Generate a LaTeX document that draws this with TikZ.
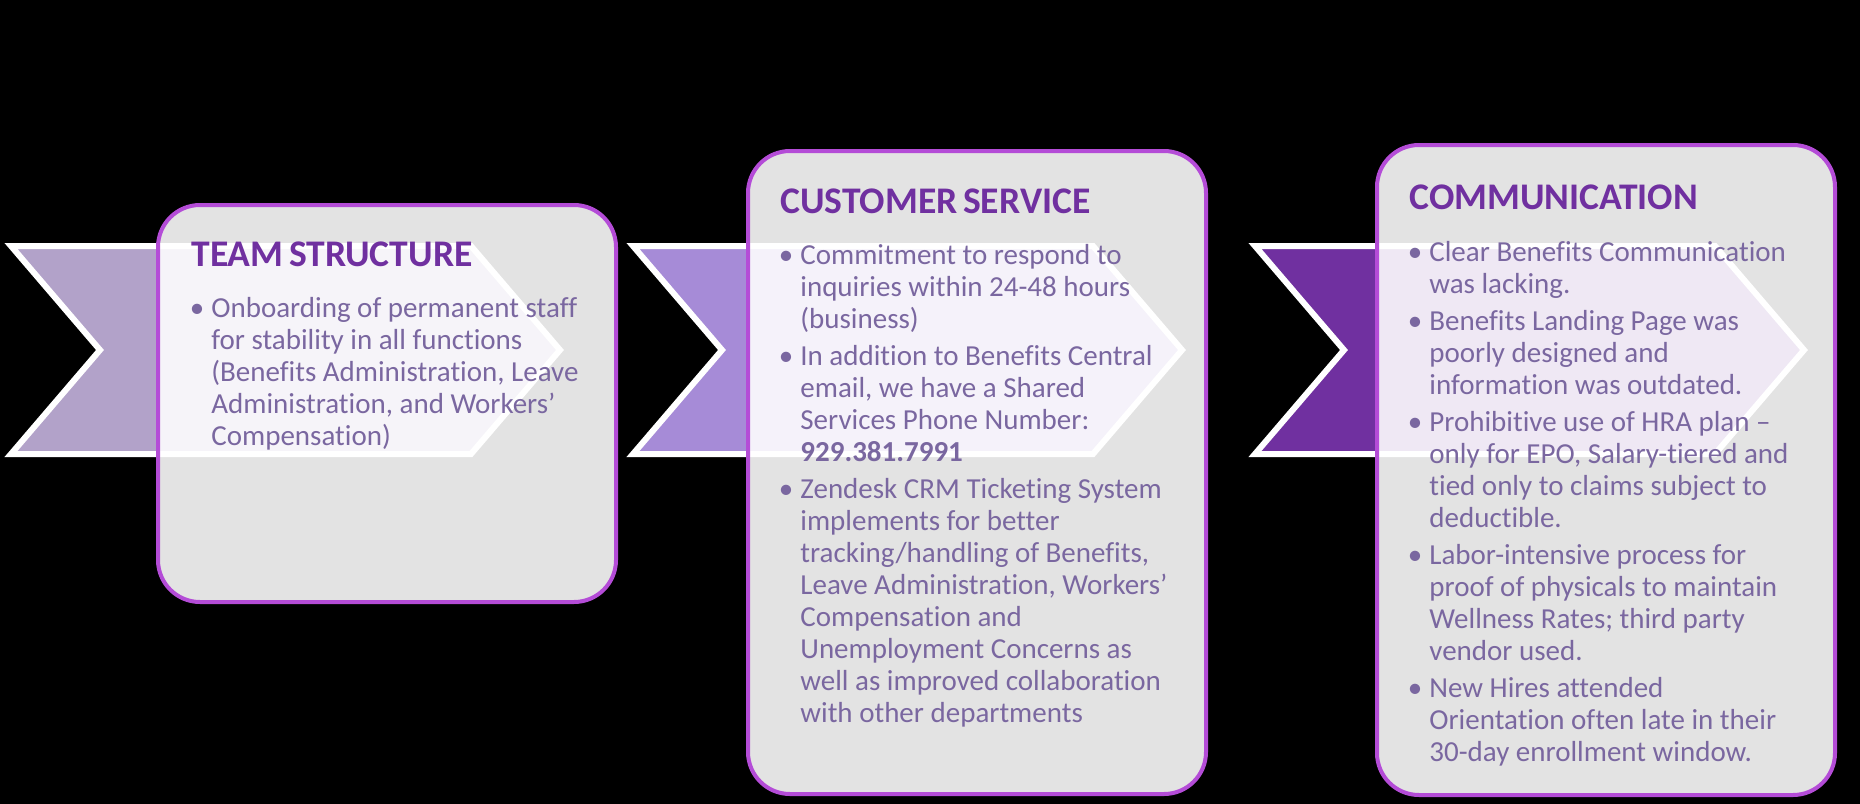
\documentclass[tikz,border=0pt]{standalone}
\usepackage{fontspec}
\setmainfont{Carlito}[Ligatures=NoCommon]
\definecolor{chevA}{HTML}{B2A2C9}
\definecolor{chevB}{HTML}{A68BD7}
\definecolor{chevC}{HTML}{7030A0}
\definecolor{panelborder}{HTML}{B44CD7}
\definecolor{titlecol}{HTML}{7030A0}
\definecolor{bodycol}{HTML}{7A67A0}
\newcommand\bul{\par\noindent\llap{\textbullet\hspace{3.5pt}}}
\begin{document}
\begin{tikzpicture}[x=0.5pt,y=-0.5pt,
  chevronshape/.style={draw=white, line width=3pt},
  panel/.style={draw=panelborder, line width=2pt, fill=white, fill opacity=0.89,
    rounded corners=21pt, minimum width=229pt, anchor=north west, inner sep=0pt},
  heading/.style={anchor=base west, inner sep=0pt, text=titlecol,
    font=\bfseries\fontsize{18.8}{22}\selectfont},
  bodytext/.style={anchor=base west, inner sep=0pt, text=bodycol,
    font=\fontsize{14.5}{16}\selectfont}]
\useasboundingbox (0,0) rectangle (1860,804);
\fill[black] (0,0) rectangle (1860,804);
% chevrons
\draw[chevronshape, fill=chevA] (11,246) -- (471,246) -- (560,350) -- (471,454) -- (11,454) -- (100,350) -- cycle;
\draw[chevronshape, fill=chevB] (633,246) -- (1093,246) -- (1182,350) -- (1093,454) -- (633,454) -- (722,350) -- cycle;
\draw[chevronshape, fill=chevC] (1255,246) -- (1715,246) -- (1804,350) -- (1715,454) -- (1255,454) -- (1344,350) -- cycle;
% panels
\node[panel, minimum height=198.5pt] (box1) at (156,203) {};
\node[panel, minimum height=321.5pt] (box2) at (746,149) {};
\node[panel, minimum height=325pt] (box3) at (1375,143) {};
% titles
\node[heading] (t1) at (191,266) {TEAM\hspace{-1.5pt} STRUCTURE};
\node[heading] (t2) at (780,213) {CUSTOMER\hspace{-1.5pt} SERVICE};
\node[heading] (t3) at (1409,209) {COMMUNICATION};
% bodies
\node[bodytext] (b1) at (211,317) {\parbox[t]{225pt}{\raggedright\setlength\parskip{2.5pt}%
\bul Onboarding of permanent staff\\ for stability in all functions\\ (Benefits Administration, Leave\\ Administration, and Workers’\\ Compensation)}};
\node[bodytext] (b2) at (800,264) {\parbox[t]{225pt}{\raggedright\setlength\parskip{2.5pt}%
\bul Commitment to respond to\\ inquiries within 24-48 hours\\ (business)
\bul In addition to Benefits Central\\ email, we have a Shared\\ Services Phone Number:\\ \textbf{929.381.7991}
\bul Zendesk CRM Ticketing System\\ implements for better\\ tracking/handling of Benefits,\\ Leave Administration, Workers’\\ Compensation and\\ Unemployment Concerns as\\ well as improved collaboration\\ with other departments}};
\node[bodytext] (b3) at (1429,261) {\parbox[t]{225pt}{\raggedright\setlength\parskip{2.5pt}%
\bul Clear Benefits Communication\\ was lacking.
\bul Benefits Landing Page was\\ poorly designed and\\ information was outdated.
\bul Prohibitive use of HRA plan –\\ only for EPO, Salary-tiered and\\ tied only to claims subject to\\ deductible.
\bul Labor-intensive process for\\ proof of physicals to maintain\\ Wellness Rates; third party\\ vendor used.
\bul New Hires attended\\ Orientation often late in their\\ 30-day enrollment window.}};
\end{tikzpicture}
\end{document}
